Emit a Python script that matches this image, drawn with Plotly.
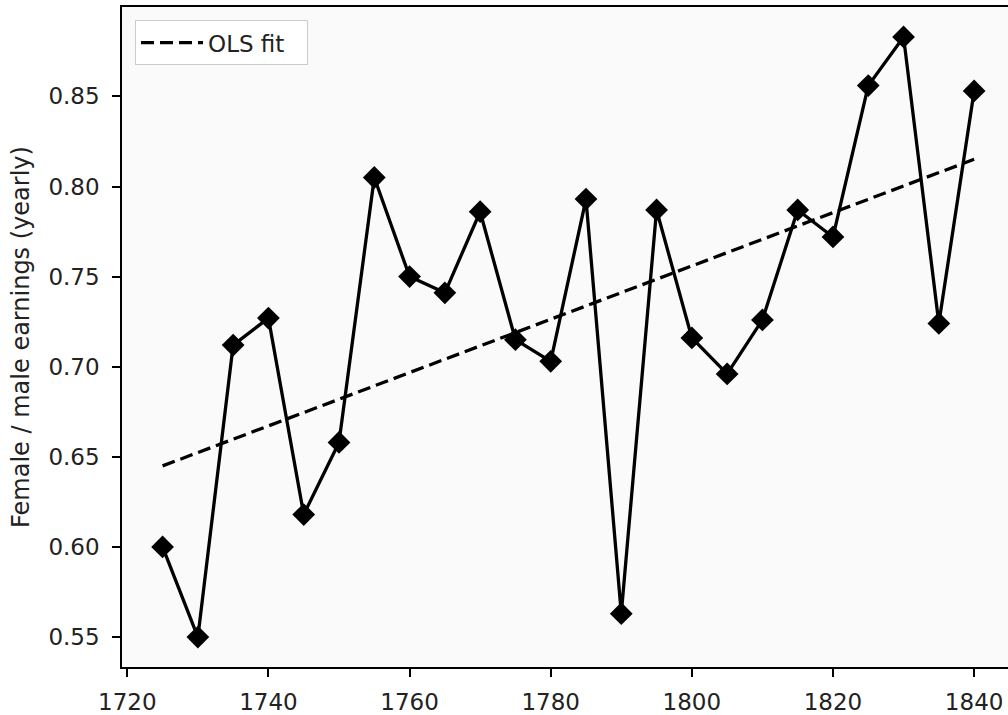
import numpy as np
import plotly.graph_objects as go

years = [1725, 1730, 1735, 1740, 1745, 1750, 1755, 1760, 1765, 1770, 1775, 1780,
         1785, 1790, 1795, 1800, 1805, 1810, 1815, 1820, 1825, 1830, 1835, 1840]
ratio = [0.600, 0.550, 0.712, 0.727, 0.618, 0.658, 0.805, 0.750, 0.741, 0.786, 0.715, 0.703,
         0.793, 0.563, 0.787, 0.716, 0.696, 0.726, 0.787, 0.772, 0.856, 0.883, 0.724, 0.853]
x_ticks = [1720, 1740, 1760, 1780, 1800, 1820, 1840]
y_ticks = [0.55, 0.60, 0.65, 0.70, 0.75, 0.80, 0.85]
y_label = "Female / male earnings (yearly)"
fit_name = "OLS fit"

slope, intercept = np.polyfit(years, ratio, 1)
fit_x = [years[0], years[-1]]
fit_y = [intercept + slope * v for v in fit_x]

FONT = "DejaVu Sans"
fig = go.Figure()
fig.add_trace(go.Scatter(
    x=years, y=ratio, mode="lines+markers", showlegend=False,
    line=dict(color="black", width=3.3),
    marker=dict(symbol="diamond", size=17.5, color="black", line=dict(width=0)),
))
fig.add_trace(go.Scatter(
    x=fit_x, y=fit_y, mode="lines", name=fit_name,
    line=dict(color="black", width=3.3, dash="13px,6px"),
))

fig.update_layout(
    width=1008, height=715,
    margin=dict(l=122, r=0, t=7, b=43),
    paper_bgcolor="white", plot_bgcolor="#fafafa",
    font=dict(family=FONT, size=23, color="#222222"),
    legend=dict(x=0.0147, y=0.98, xanchor="left", yanchor="top", itemwidth=62,
                orientation="h", entrywidth=94,
                bgcolor="rgba(255,255,255,0.85)", bordercolor="#cccccc", borderwidth=1,
                font=dict(family=FONT, size=23, color="#222222")),
    xaxis=dict(range=[1719.25, 1844.8], tickvals=x_ticks, ticks="outside", ticklen=8,
               tickwidth=1.5, tickcolor="black", showgrid=False, zeroline=False,
               showline=True, linecolor="black", linewidth=1.5, mirror=True,
               ticklabelstandoff=6),
    yaxis=dict(range=[0.5334, 0.8996], tickvals=y_ticks, tickformat=".2f", ticks="outside",
               ticklen=8, tickwidth=1.5, tickcolor="black", showgrid=False, zeroline=False,
               showline=True, linecolor="black", linewidth=1.5, mirror=False,
               ticklabelstandoff=8,
               title=dict(text=y_label, standoff=12, font=dict(size=24))),
)
fig.write_html("out.html")
